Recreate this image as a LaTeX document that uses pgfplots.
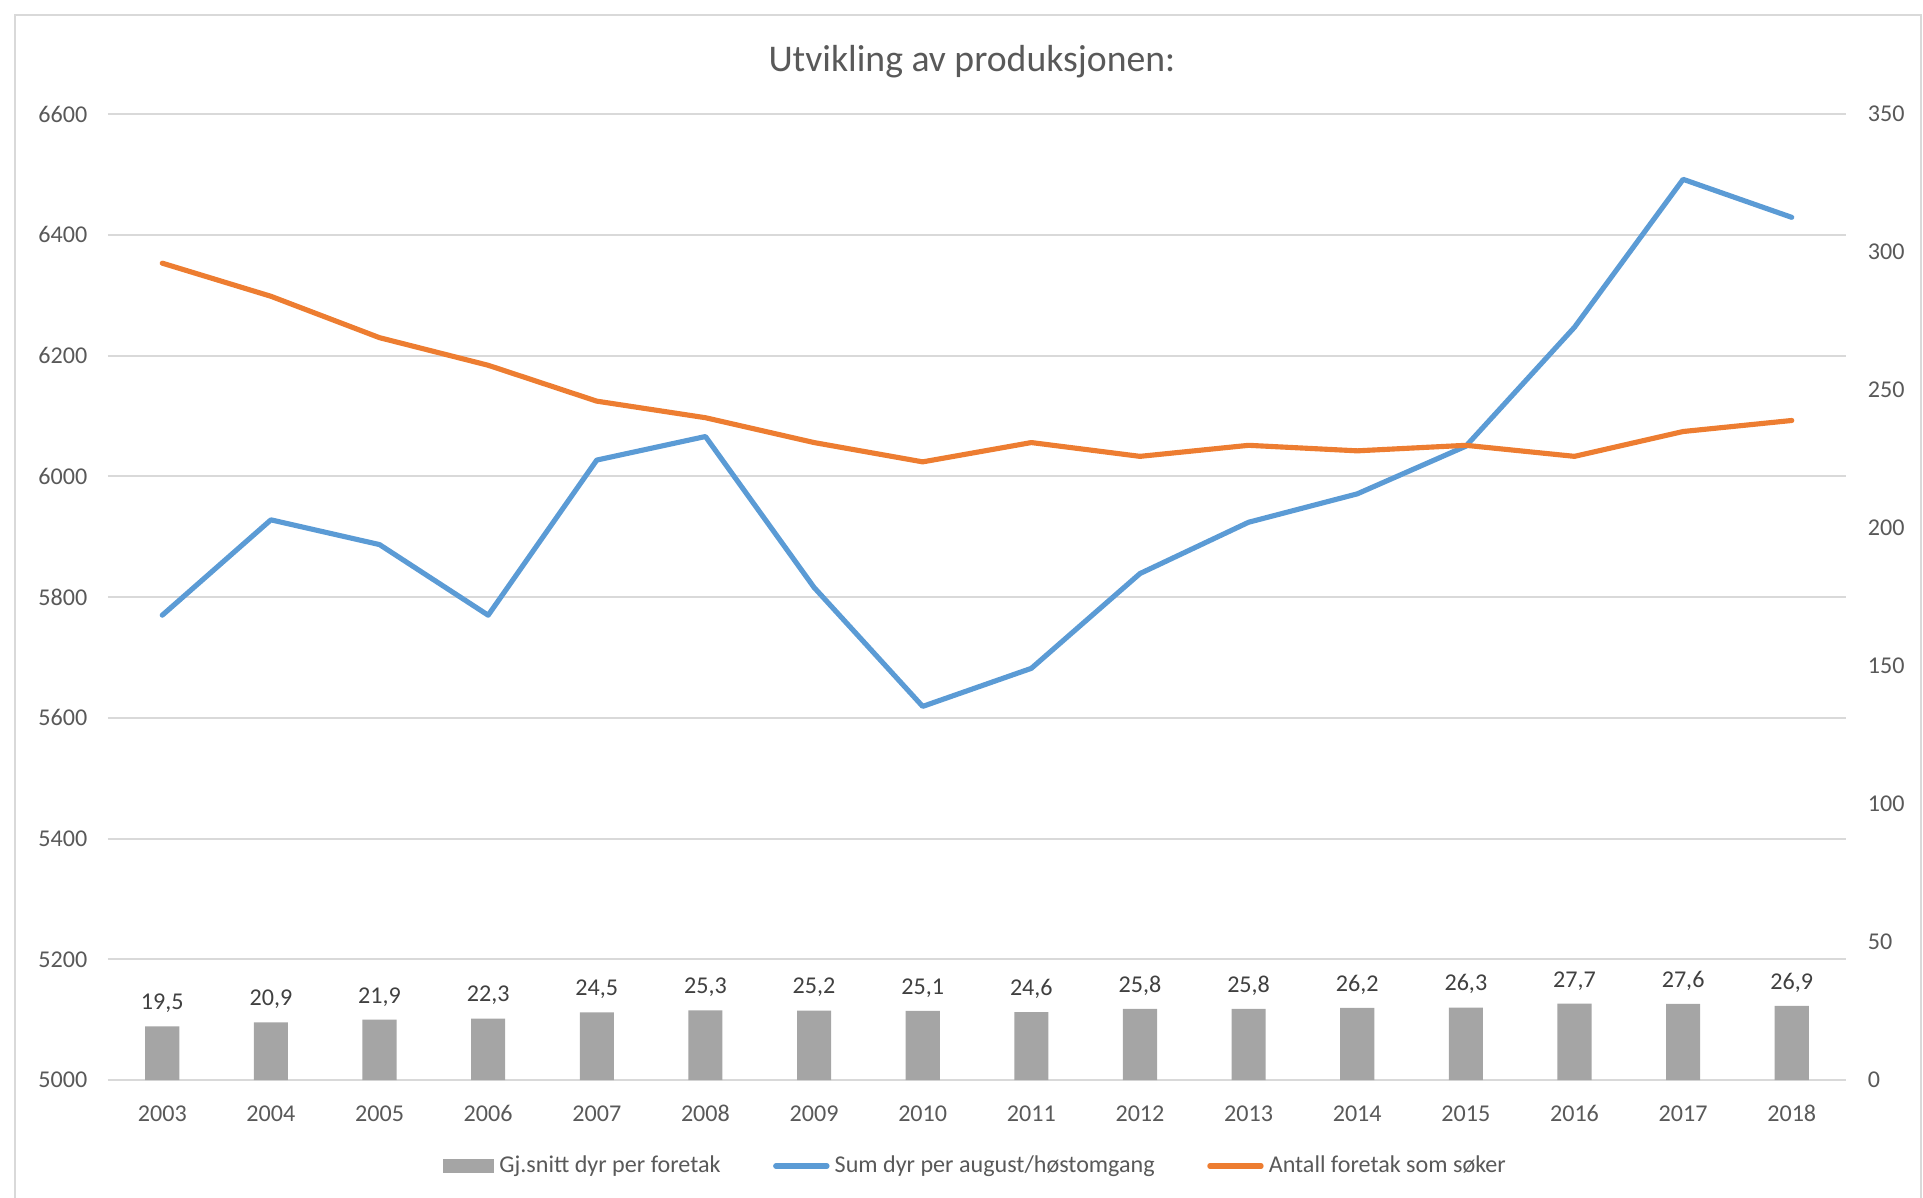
\documentclass[border=0pt]{standalone}
\usepackage{fontspec}
\setmainfont{Carlito}
\usepackage{pgfplots}
\pgfplotsset{compat=1.18}
\usetikzlibrary{calc}

\definecolor{cblue}{HTML}{5B9BD5}
\definecolor{corange}{HTML}{ED7D31}
\definecolor{cgrey}{HTML}{A5A5A5}
\definecolor{cgrid}{HTML}{D9D9D9}
\definecolor{ctext}{HTML}{595959}
\definecolor{clabel}{HTML}{404040}

% years at 0..15
\pgfplotstableread{
x avg sum firms
0 19.5 5770 296
1 20.9 5928 284
2 21.9 5887 269
3 22.3 5770 259
4 24.5 6027 246
5 25.3 6066 240
6 25.2 5816 231
7 25.1 5619 224
8 24.6 5682 231
9 25.8 5839 226
10 25.8 5924 230
11 26.2 5971 228
12 26.3 6050 230
13 27.7 6247 226
14 27.6 6492 235
15 26.9 6429 239
}\data

\newcommand\smallfont{\fontsize{9.4}{11}\selectfont}

\pgfplotsset{
  common/.style={
    scale only axis,
    width=677.8pt, height=376.7pt,
    xmin=-0.5, xmax=15.5,
    enlargelimits=false,
    axis line style={draw=none},
    major tick length=0pt,
    tick label style={font=\smallfont, color=ctext},
    /pgf/number format/assume math mode=true,
    /pgf/number format/1000 sep={},
  },
  linelegend/.style={legend image code/.code={\draw[##1] (0pt,0pt) -- (20pt,0pt);}},
  barlegend/.style={legend image code/.code={\fill[cgrey] (0pt,-2.6pt) rectangle (20pt,2.6pt);}},
}

\begin{document}
\begin{tikzpicture}
% left axis: sum
\begin{axis}[common,
  ymin=5000, ymax=6600, ytick distance=200,
  ymajorgrids, grid style={cgrid, line width=0.8pt},
  yticklabel style={xshift=-4.5pt},
  xtick={0,...,15},
  xticklabels={2003,2004,2005,2006,2007,2008,2009,2010,2011,2012,2013,2014,2015,2016,2017,2018},
  xticklabel style={yshift=-4.8pt, text height=1.6ex, text depth=0.2ex},
  title={Utvikling av produksjonen:},
  title style={at={(0.5,1)}, anchor=center, yshift=14.3pt, xshift=-2pt,
    font=\fontsize{14.7}{17}\selectfont, color=ctext},
]
\coordinate (SW) at (rel axis cs:0,0);
\coordinate (NE) at (rel axis cs:1,1);
\addplot[cblue, line width=2pt, line join=round, line cap=round] table[x=x, y=sum] {\data};
\end{axis}

% right axis: bars and firms
\begin{axis}[common,
  ymin=0, ymax=350, ytick distance=50,
  yticklabel pos=right,
  yticklabel style={xshift=5pt},
  xtick=\empty,
  legend columns=3,
  legend style={draw=none, fill=none, at={(0.5,0)}, anchor=center, yshift=-33.5pt,
    font=\smallfont, text=ctext,
    /tikz/every even column/.append style={column sep=18.5pt},
    legend cell align=left},
]
\addplot[ybar, bar width=13.3pt, fill=cgrey, draw=none,
  nodes near coords,
  nodes near coords style={font=\smallfont, color=clabel, yshift=1.5pt,
    text height=1.6ex, text depth=0.3ex,
    /pgf/number format/fixed, /pgf/number format/precision=1,
    /pgf/number format/fixed zerofill, /pgf/number format/use comma},
  barlegend]
  table[x=x, y=avg] {\data};
\addlegendentry{Gj.snitt dyr per foretak}
\addlegendimage{cblue, line width=2pt, line cap=round, linelegend}
\addlegendentry{Sum dyr per august/høstomgang}
\addplot[corange, line width=2pt, line join=round, line cap=round, linelegend]
  table[x=x, y=firms] {\data};
\addlegendentry{Antall foretak som søker}
\end{axis}

\pgfresetboundingbox
\path[use as bounding box] ($(SW)+(-42.1pt,-45.6pt)$) rectangle ($(NE)+(30pt,44.5pt)$);
\draw[cgrid, line width=0.8pt]
  ($(SW)+(-36.2pt,-46pt)$) -- ($(SW|-NE)+(-36.2pt,38.6pt)$)
  -- ($(NE)+(29.2pt,38.6pt)$) -- ($(NE|-SW)+(29.2pt,-46pt)$);
\end{tikzpicture}
\end{document}
